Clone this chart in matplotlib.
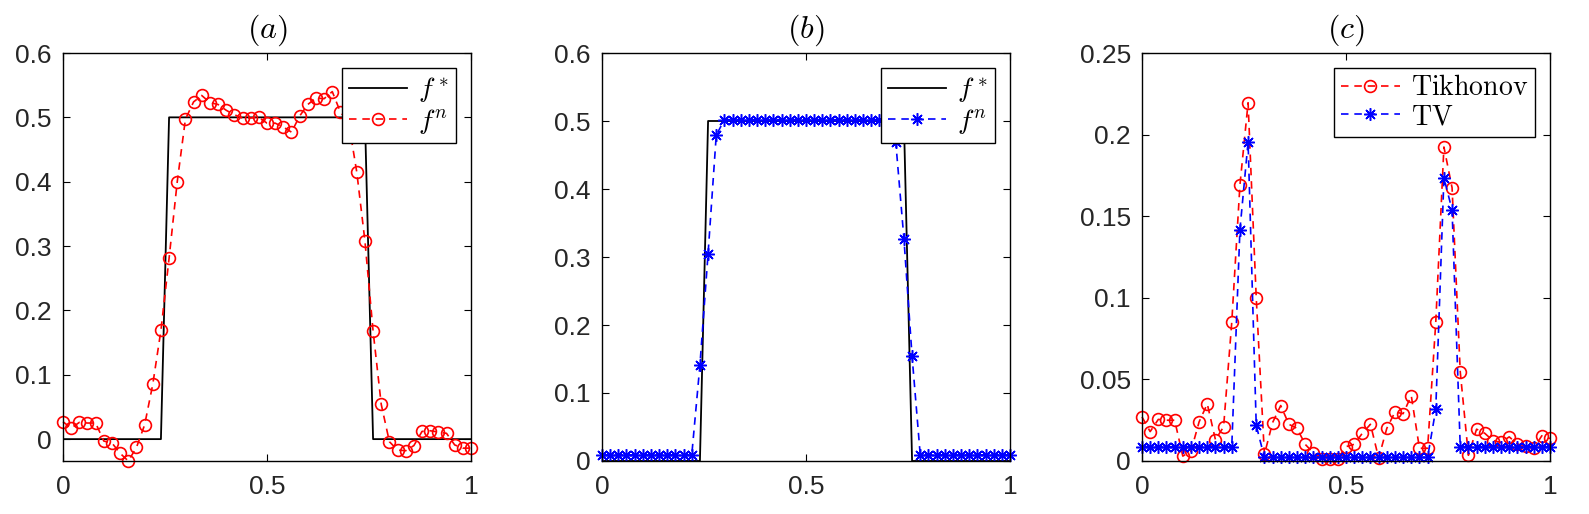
import numpy as np
import matplotlib
matplotlib.use("Agg")
import matplotlib.pyplot as plt

plt.rcParams['font.family'] = ['Liberation Sans', 'DejaVu Sans']
plt.rcParams['mathtext.fontset'] = 'cm'

# grid (51 nodes on [0, 1])
x = np.linspace(0, 1, 51)

# exact solution f*
f_true = [0.0] * 13 + [0.5] * 25 + [0.0] * 13

# (a) Tikhonov reconstruction
f_tik = [0.027, 0.017, 0.026, 0.025, 0.025, -0.003, -0.006, -0.022, -0.034, -0.013,
         0.022, 0.085, 0.169, 0.281, 0.400, 0.497, 0.524, 0.534, 0.523, 0.520,
         0.511, 0.504, 0.499, 0.499, 0.500, 0.491, 0.491, 0.485, 0.477, 0.502,
         0.520, 0.530, 0.529, 0.540, 0.508, 0.493, 0.415, 0.308, 0.168, 0.054,
         -0.004, -0.017, -0.018, -0.010, 0.012, 0.013, 0.011, 0.009, -0.009, -0.014,
         -0.014]

# (b) TV reconstruction
f_tv = [0.009] * 12 + [0.141, 0.305, 0.479] + [0.502] * 21 + \
       [0.469, 0.327, 0.154] + [0.009] * 12

# (c) pointwise errors
err_tik = [0.027, 0.018, 0.0255, 0.025, 0.025, 0.003, 0.006, 0.024, 0.035, 0.013,
           0.021, 0.085, 0.169, 0.2195, 0.100, 0.004, 0.0235, 0.034, 0.0225, 0.020,
           0.0102, 0.005, 0.0012, 0.001, 0.0014, 0.0088, 0.0102, 0.017, 0.0225, 0.0018,
           0.020, 0.030, 0.029, 0.040, 0.0078, 0.0078, 0.085, 0.1924, 0.1674, 0.0547,
           0.0035, 0.0195, 0.017, 0.0125, 0.0114, 0.0148, 0.0104, 0.0094, 0.0077, 0.0155,
           0.0138]
err_tv = [0.0088] * 12 + [0.1416, 0.1955, 0.0218] + [0.0022] * 21 + \
         [0.0316, 0.1735, 0.1538] + [0.0088] * 12

xticks = [0, 0.5, 1]
xticklabels = ['0', '0.5', '1']
yticks_ab = [0, 0.1, 0.2, 0.3, 0.4, 0.5, 0.6]
yticklabels_ab = ['0', '0.1', '0.2', '0.3', '0.4', '0.5', '0.6']
yticks_c = [0, 0.05, 0.1, 0.15, 0.2, 0.25]
yticklabels_c = ['0', '0.05', '0.1', '0.15', '0.2', '0.25']

fig = plt.figure(figsize=(15.89, 5.14), dpi=100)
W, H = 1589, 514
lefts = [63, 602, 1142]
axs = [fig.add_axes([l / W, 1 - 461 / H, 408 / W, 408 / H]) for l in lefts]

# MATLAB-like asterisk: 8 spokes
asterisk = (8, 2, 0)

red_kw = dict(color='r', ls='--', lw=1.2, marker='o', mfc='none', ms=8.5, mew=1.2,
              clip_on=False, dashes=(4.5, 3.5))
blue_kw = dict(color='b', ls='--', lw=1.2, marker=asterisk, ms=9, mew=1.1,
               clip_on=False, dashes=(4.5, 3.5))

ax = axs[0]
ax.plot(x, f_true, color='k', lw=1.3, label=r'$f^*$')
ax.plot(x, f_tik, label=r'$f^n$', **red_kw)
ax.set_ylim(-0.034, 0.6)
ax.set_yticks(yticks_ab)
ax.set_yticklabels(yticklabels_ab)
ax.set_title(r'$(a)$', fontsize=23, pad=11)

ax = axs[1]
ax.plot(x, f_true, color='k', lw=1.3, label=r'$f^*$')
ax.plot(x, f_tv, label=r'$f^n$', **blue_kw)
ax.set_ylim(0, 0.6)
ax.set_yticks(yticks_ab)
ax.set_yticklabels(yticklabels_ab)
ax.set_title(r'$(b)$', fontsize=23, pad=11)

ax = axs[2]
ax.plot(x, err_tik, label=r'$\mathrm{Tikhonov}$', **red_kw)
ax.plot(x, err_tv, label=r'$\mathrm{TV}$', **blue_kw)
ax.set_ylim(0, 0.25)
ax.set_yticks(yticks_c)
ax.set_yticklabels(yticklabels_c)
ax.set_title(r'$(c)$', fontsize=23, pad=11)

for ax in axs:
    ax.set_xlim(0, 1)
    ax.set_xticks(xticks)
    ax.set_xticklabels(xticklabels)
    ax.tick_params(direction='in', top=True, right=True, length=5, width=0.8,
                   labelsize=19, labelcolor='#262626')
    ax.tick_params(axis='x', pad=10)
    ax.tick_params(axis='y', pad=8)
    for s in ax.spines.values():
        s.set_linewidth(1.0)
    leg = ax.legend(loc='upper right', fontsize=20, fancybox=False, framealpha=1,
                    edgecolor='k', handlelength=2.1, borderaxespad=0.55,
                    handletextpad=0.4, labelspacing=0.1, borderpad=0.25)
    leg.get_frame().set_linewidth(1.0)

fig.savefig('out.png', dpi=100)
